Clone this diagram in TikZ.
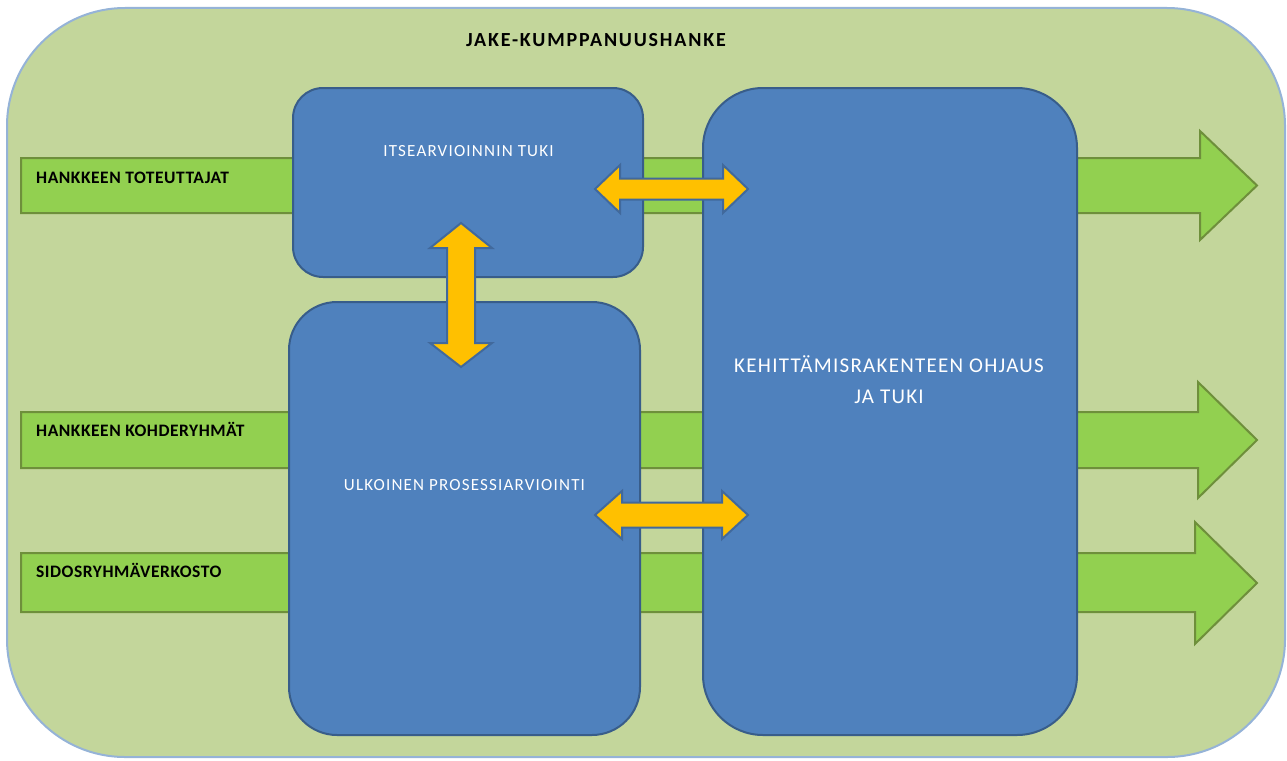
\documentclass[tikz,border=0pt]{standalone}
\usepackage{fontspec}
\setmainfont{Carlito}
\usetikzlibrary{positioning}
\definecolor{outerfill}{HTML}{C3D69B}
\definecolor{outerdraw}{HTML}{95B3D7}
\definecolor{barfill}{HTML}{92D050}
\definecolor{bardraw}{HTML}{6E8F3B}
\definecolor{boxfill}{HTML}{4F81BD}
\definecolor{boxdraw}{HTML}{385D8A}
\definecolor{orangefill}{HTML}{FFC000}
\definecolor{orangedraw}{HTML}{41699C}
\tikzset{
  outerbox/.style={fill=outerfill, draw=outerdraw, line width=2pt},
  bararrow/.style={fill=barfill, draw=bardraw, line width=2pt, line join=miter},
  bluebox/.style={fill=boxfill, draw=boxdraw, line width=2pt},
  dblarrow/.style={fill=orangefill, draw=orangedraw, line width=2pt, line join=miter},
  barlabel/.style={anchor=base west, inner sep=0pt, font=\fontsize{17.5}{20}\selectfont\bfseries\addfontfeatures{LetterSpace=3}, text=black},
  titlelabel/.style={anchor=base, inner sep=0pt, font=\fontsize{20}{24}\selectfont\bfseries\addfontfeatures{LetterSpace=9}, text=black},
  boxlabel/.style={anchor=base, inner sep=0pt, font=\fontsize{17}{20}\selectfont\addfontfeatures{LetterSpace=7}, text=white},
  biglabel/.style={anchor=base, inner sep=0pt, font=\fontsize{21}{25}\selectfont\addfontfeatures{LetterSpace=6}, text=white}
}
\begin{document}
\begin{tikzpicture}[x=1pt,y=-1pt]
\useasboundingbox (0,0) rectangle (1287,760);
% outer frame
\draw[outerbox, rounded corners=118pt] (7,8) rectangle (1285,757);
% green arrows
\draw[bararrow] (21,158) -- (1200,158) -- (1200,131) -- (1257,185.5) -- (1200,240) -- (1200,213) -- (21,213) -- cycle;
\draw[bararrow] (21,412) -- (1198,412) -- (1198,382) -- (1257,440) -- (1198,498) -- (1198,468) -- (21,468) -- cycle;
\draw[bararrow] (21,553) -- (1195,553) -- (1195,522) -- (1257,583) -- (1195,644) -- (1195,612) -- (21,612) -- cycle;
% blue boxes
\node[bluebox, rounded corners=30pt, minimum width=350pt, minimum height=189pt] (itse) at (468,182.5) {};
\node[bluebox, rounded corners=48pt, minimum width=351pt, minimum height=433pt] (ulko) at (464.5,518.5) {};
\node[bluebox, rounded corners=60pt, minimum width=374pt, minimum height=647pt] (kehi) at (890,411.5) {};
% orange double arrows
\draw[dblarrow] (595,189) -- (620,165) -- (620,178.5) -- (723,178.5) -- (723,165) -- (748,189) -- (723,213) -- (723,199.5) -- (620,199.5) -- (620,213) -- cycle;
\draw[dblarrow] (461,223) -- (492,248) -- (475,248) -- (475,343) -- (492,343) -- (461,367) -- (430,343) -- (447,343) -- (447,248) -- (430,248) -- cycle;
\draw[dblarrow] (595,515) -- (622,491) -- (622,502.5) -- (722,502.5) -- (722,491) -- (748,515) -- (722,539) -- (722,527.5) -- (622,527.5) -- (622,539) -- cycle;
% texts
\node[titlelabel] (title) at (596,47) {JAKE-KUMPPANUUSHANKE};
\node[barlabel] (t1) at (36,183.5) {HANKKEEN TOTEUTTAJAT};
\node[barlabel] (t2) at (36,436) {HANKKEEN KOHDERYHMÄT};
\node[barlabel] (t3) at (36,577) {SIDOSRYHMÄVERKOSTO};
\node[boxlabel] (l1) at (468.5,156) {ITSEARVIOINNIN TUKI};
\node[boxlabel] (l2) at (464.5,490) {ULKOINEN PROSESSIARVIOINTI};
\node[biglabel] (l3a) at (889,372) {KEHITTÄMISRAKENTEEN OHJAUS};
\node[biglabel] (l3b) at (889,403) {JA TUKI};
\end{tikzpicture}
\end{document}
